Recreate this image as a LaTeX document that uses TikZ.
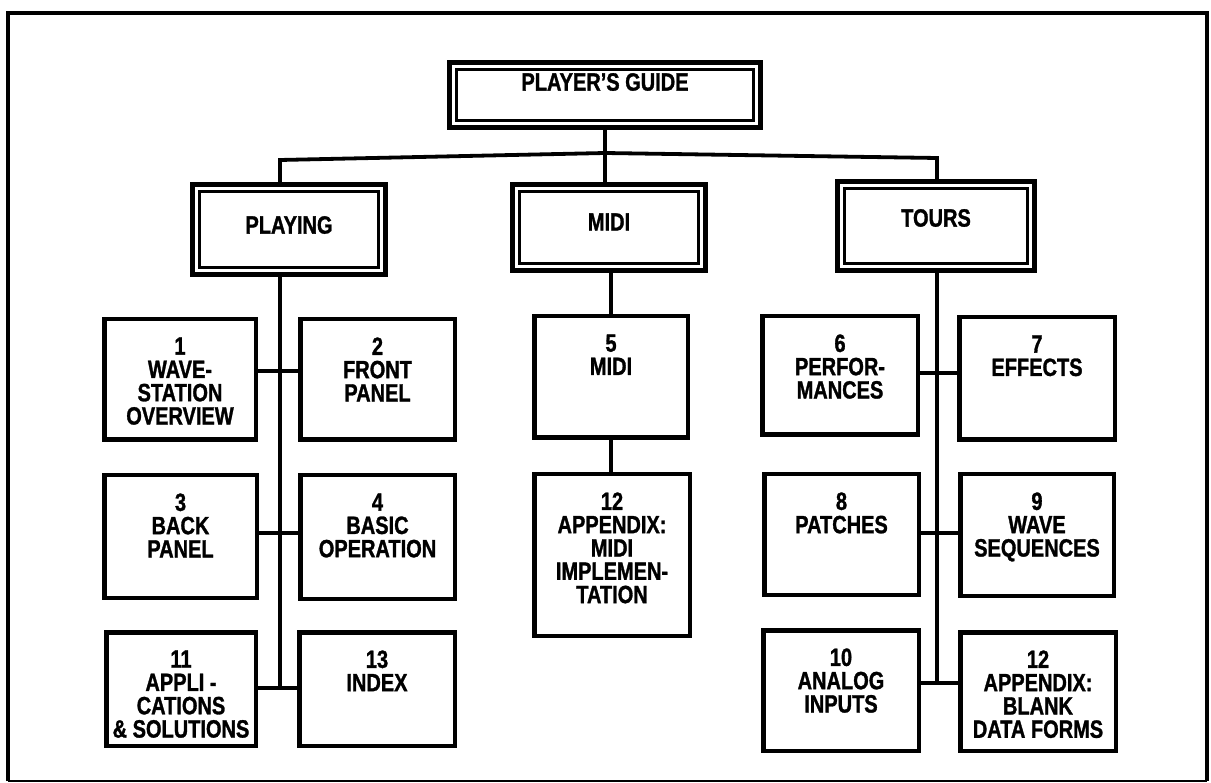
\documentclass[tikz,border=0pt]{standalone}
\usepackage{fontspec}
\setmainfont{Liberation Sans}[FakeStretch=0.8, BoldFeatures={FakeBold=1.2}]
\begin{document}
\begin{tikzpicture}[x=1pt,y=-1pt,
  cbox/.style 2 args={draw, line width=4.5pt, inner sep=0pt, outer sep=0pt,
    minimum width=#1pt-4.5pt, minimum height=#2pt-4.5pt},
  hbox/.style 2 args={draw, line width=5pt, inner sep=0pt, outer sep=0pt,
    minimum width=#1pt-5pt, minimum height=#2pt-5pt},
  hinner/.style={line width=2.4pt},
  txt/.style={anchor=north, align=center, inner sep=0pt,
    font=\fontsize{25}{23.3}\selectfont\bfseries},
  htxt/.style={inner sep=0pt, font=\fontsize{25}{23}\selectfont\bfseries},
  conn/.style={line width=3.8pt},
  hconn/.style={line width=3.2pt},
  frame/.style={line width=3.8pt}
]
\useasboundingbox (0,0) rectangle (1211,783);

% outer frame
\draw[frame] (8,781) -- (8,13) -- (1207,13) -- (1207,781);
\draw[line width=2.4pt] (8,781) -- (1207,781);

% header boxes
\node[hbox={316}{70}] (guide) at (605,95) {};
\node[hbox={198}{95}] (playing) at (289,229.5) {};
\node[hbox={198}{91}] (midi) at (609,227.5) {};
\node[hbox={202}{94}] (tours) at (936,226) {};
\foreach \n in {guide,playing,midi,tours}{
  \draw[hinner] ([xshift=7pt,yshift=-7pt]\n.north west) rectangle ([xshift=-7pt,yshift=7pt]\n.south east);
}
\node[htxt] (tguide) at ([yshift=13pt]guide.center) {PLAYER'S GUIDE};
\node[htxt] (tplaying) at ([yshift=4.5pt]playing.center) {PLAYING};
\node[htxt] (tmidi) at ([yshift=5.5pt]midi.center) {MIDI};
\node[htxt] (ttours) at ([yshift=8pt]tours.center) {TOURS};

% child boxes
\node[cbox={156}{125}] (b1) at (180,379.5) {};
\node[cbox={159}{125}] (b2) at (377.5,379.5) {};
\node[cbox={157}{127}] (b3) at (180.5,536.5) {};
\node[cbox={159}{128}] (b4) at (377.5,537) {};
\node[cbox={154}{118}] (b11) at (181,689) {};
\node[cbox={160}{118}] (b13) at (377,689) {};
\node[cbox={158}{126}] (b5) at (611,377) {};
\node[cbox={160}{166}] (b12m) at (612,555) {};
\node[cbox={160}{123}] (b6) at (840,375.5) {};
\node[cbox={160}{127}] (b7) at (1037,378.5) {};
\node[cbox={159}{125}] (b8) at (841.5,534.5) {};
\node[cbox={158}{126}] (b9) at (1037,535) {};
\node[cbox={160}{125}] (b10) at (841,690.5) {};
\node[cbox={160}{123}] (b12r) at (1038,691.5) {};

% child texts
\node[txt] (t1) at ([yshift=-18pt]b1.north) {1\\WAVE-\\STATION\\OVERVIEW};
\node[txt] (t2) at ([yshift=-18pt]b2.north) {2\\FRONT\\PANEL};
\node[txt] (t3) at ([yshift=-18pt]b3.north) {3\\BACK\\PANEL};
\node[txt] (t4) at ([yshift=-18pt]b4.north) {4\\BASIC\\OPERATION};
\node[txt] (t11) at ([yshift=-18pt]b11.north) {11\\APPLI -\\CATIONS\\\& SOLUTIONS};
\node[txt] (t13) at ([yshift=-18pt]b13.north) {13\\INDEX};
\node[txt] (t5) at ([yshift=-18pt]b5.north) {5\\MIDI};
\node[txt] (t12m) at ([yshift=-18pt]b12m.north) {12\\APPENDIX:\\MIDI\\IMPLEMEN-\\TATION};
\node[txt] (t6) at ([yshift=-18pt]b6.north) {6\\PERFOR-\\MANCES};
\node[txt] (t7) at ([yshift=-18pt]b7.north) {7\\EFFECTS};
\node[txt] (t8) at ([yshift=-18pt]b8.north) {8\\PATCHES};
\node[txt] (t9) at ([yshift=-18pt]b9.north) {9\\WAVE\\SEQUENCES};
\node[txt] (t10) at ([yshift=-18pt]b10.north) {10\\ANALOG\\INPUTS};
\node[txt] (t12r) at ([yshift=-18pt]b12r.north) {12\\APPENDIX:\\BLANK\\DATA FORMS};

% bus and spines
\coordinate (busL) at (280,160);
\coordinate (busM) at (605,153);
\coordinate (busR) at (937,158);
\draw[conn] (guide.south) -- (guide.south |- midi.north);
\draw[conn, line join=miter] (busL |- playing.north) -- (busL) -- (busM) -- (busR) -- (busR |- tours.north);

% playing spine
\coordinate (pl1) at (280,371);
\coordinate (pl2) at (280,533);
\coordinate (pl3) at (280,688);
\draw[conn] (pl1 |- playing.south) -- (pl3);
\draw[hconn] (b1.east |- pl1) -- (b2.west |- pl1);
\draw[hconn] (b3.east |- pl2) -- (b4.west |- pl2);
\draw[hconn] (b11.east |- pl3) -- (b13.west |- pl3);

% midi spine
\draw[conn] (b5.north |- midi.south) -- (b5.north);
\draw[conn] (b5.south) -- (b5.south |- b12m.north);

% tours spine
\coordinate (tr1) at (937,373);
\coordinate (tr2) at (937,533);
\coordinate (tr3) at (937,683);
\draw[conn] (tr1 |- tours.south) -- (tr3);
\draw[hconn] (b6.east |- tr1) -- (b7.west |- tr1);
\draw[hconn] (b8.east |- tr2) -- (b9.west |- tr2);
\draw[hconn] (b10.east |- tr3) -- (b12r.west |- tr3);
\end{tikzpicture}
\end{document}
